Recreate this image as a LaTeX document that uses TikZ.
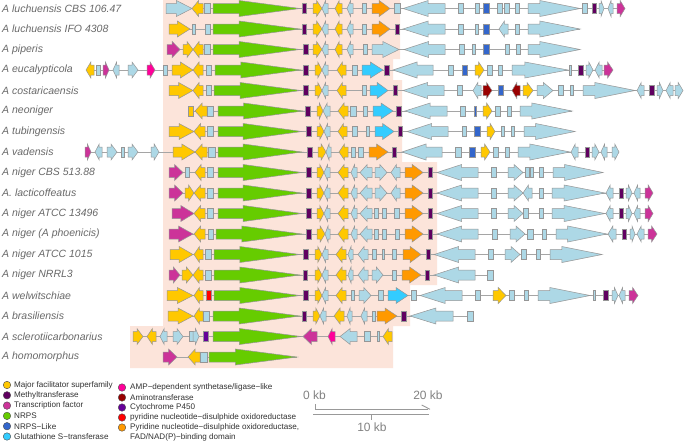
\documentclass[tikz,border=0pt]{standalone}
\usepackage{fontspec}
\setmainfont{Liberation Sans}
\definecolor{mfs}{RGB}{255,200,0}
\definecolor{mt}{RGB}{96,0,96}
\definecolor{tf}{RGB}{204,51,153}
\definecolor{nrps}{RGB}{102,204,0}
\definecolor{nrpsl}{RGB}{51,102,204}
\definecolor{gst}{RGB}{51,204,255}
\definecolor{amp}{RGB}{255,0,153}
\definecolor{amt}{RGB}{153,0,0}
\definecolor{ptf}{RGB}{102,0,153}
\definecolor{pnr}{RGB}{255,0,0}
\definecolor{pfad}{RGB}{255,153,0}
\definecolor{oth}{RGB}{173,216,230}
\definecolor{genegray}{RGB}{150,150,150}
\definecolor{linegray}{RGB}{165,165,165}
\definecolor{bgpeach}{RGB}{252,228,218}
\definecolor{labgray}{RGB}{105,105,105}
\definecolor{leggray}{RGB}{50,50,50}
\definecolor{scalegray}{RGB}{130,130,130}
\tikzset{
  gene/.style={draw=genegray, line width=0.5pt},
  rowline/.style={draw=linegray, line width=0.8pt},
  lab/.style={anchor=west, inner sep=0pt, text=labgray, font=\fontsize{10.5}{12}\selectfont\itshape},
  legtxt/.style={anchor=west, inner sep=0pt, text=leggray, font=\fontsize{8.1}{9}\selectfont},
  legdot/.style={circle, draw=black!70, line width=0.4pt, minimum size=7.5pt, inner sep=0pt},
  scaletxt/.style={inner sep=0pt, text=scalegray, font=\fontsize{12}{13}\selectfont},
  scaleline/.style={draw=black!40, line width=0.9pt}
}
\def\ry{0}
\newcommand\setrow[1]{\def\ry{#1}}
\newcommand\gR[4][0.6]{\pgfmathsetmacro\hx{#3-(#3-#2)*#1}\filldraw[gene,fill=#4] (#2,\ry-5) -- (\hx,\ry-5) -- (\hx,\ry-8) -- (#3,\ry) -- (\hx,\ry+8) -- (\hx,\ry+5) -- (#2,\ry+5) -- cycle;}
\newcommand\gL[4][0.6]{\pgfmathsetmacro\hx{#2+(#3-#2)*#1}\filldraw[gene,fill=#4] (#3,\ry-5) -- (\hx,\ry-5) -- (\hx,\ry-8) -- (#2,\ry) -- (\hx,\ry+8) -- (\hx,\ry+5) -- (#3,\ry+5) -- cycle;}
\newcommand\gB[3]{\filldraw[gene,fill=#3] (#1,\ry-5) rectangle (#2,\ry+5);}
\newcommand\rl[2]{\draw[rowline] (#1,\ry) -- (#2,\ry);}
\newcommand\nrps[2]{\gR[0.7]{#1}{#2}{nrps}}
\newcommand\bigR[2]{\gR[0.77]{#1}{#2}{oth}}
\begin{document}
\begin{tikzpicture}[x=1pt,y=-1pt]
\useasboundingbox (0,0) rectangle (685,442);
\fill[white] (0,0) rectangle (685,442);
% shaded region
\fill[bgpeach] (163,0) -- (400,0) -- (400,59) -- (393,59) -- (393,80) -- (402,80) -- (402,162) -- (437,162) -- (437,285) -- (410,285) -- (410,326) -- (393,326) -- (393,368) -- (130,368) -- (130,326) -- (163,326) -- cycle;

% labels
\node[lab] (n1) at (2,8.5) {A luchuensis CBS 106.47};
\node[lab] (n2) at (2,29) {A luchuensis IFO 4308};
\node[lab] (n3) at (2,49.5) {A piperis};
\node[lab] (n4) at (2,70) {A eucalypticola};
\node[lab] (n5) at (2,90.5) {A costaricaensis};
\node[lab] (n6) at (2,111) {A neoniger};
\node[lab] (n7) at (2,131.5) {A tubingensis};
\node[lab] (n8) at (2,152) {A vadensis};
\node[lab] (n9) at (2,172.5) {A niger CBS 513.88};
\node[lab] (n10) at (2,193) {A. lacticoffeatus};
\node[lab] (n11) at (2,213.5) {A niger ATCC 13496};
\node[lab] (n12) at (2,234) {A niger (A phoenicis)};
\node[lab] (n13) at (2,254.5) {A niger ATCC 1015};
\node[lab] (n14) at (2,275) {A niger NRRL3};
\node[lab] (n15) at (2,295.5) {A welwitschiae};
\node[lab] (n16) at (2,316) {A brasiliensis};
\node[lab] (n17) at (2,336.5) {A sclerotiicarbonarius};
\node[lab] (n18) at (2,357) {A homomorphus};

% row 1
\setrow{8.5}\rl{166}{625}
\gR{166}{192}{oth}\gL{192}{203}{mfs}\gB{204}{210}{oth}\nrps{213}{300}\gB{302}{306}{mt}
\gR{313}{322}{mfs}\gL{322}{328}{oth}\gL{335}{342}{mfs}\gL{347}{353}{oth}\gB{362}{366}{oth}
\gR{372}{390}{pfad}\gB{394}{400}{oth}\gL{403}{445}{oth}\gB{458}{463}{oth}\gB{475}{479}{oth}
\gB{483}{489}{nrpsl}\gB{497}{502}{oth}\gB{504}{509}{oth}\gB{515}{519}{oth}\bigR{528}{580}
\gB{582}{587}{oth}\gB{592}{596}{mt}\gR{599}{604}{oth}\gL{608}{613}{oth}\gR{617}{625}{tf}
% row 2
\setrow{29}\rl{169}{580}
\gR{169}{190}{mfs}\gB{192}{195}{oth}\gB{205}{210}{oth}\nrps{213}{300}\gB{302}{306}{mt}
\gR{313}{322}{mfs}\gL{322}{328}{oth}\gL{335}{342}{mfs}\gL{347}{353}{oth}\gB{362}{366}{oth}
\gR{372}{390}{pfad}\gB{395}{399}{mt}\gL{403}{445}{oth}\gB{458}{463}{oth}\gB{475}{478}{oth}
\gB{483}{489}{nrpsl}\gL{499}{508}{oth}\gB{515}{519}{oth}\bigR{528}{580}
% row 3
\setrow{49.5}\rl{167}{580}
\gR{167}{180}{tf}\gR{183}{193}{mfs}\gL{193}{203}{mfs}\gB{204}{210}{oth}\nrps{213}{300}\gB{303}{308}{mt}
\gR{313}{322}{mfs}\gL{322}{328}{oth}\gL{335}{342}{mfs}\gL{347}{353}{oth}\gB{363}{367}{oth}
\gR{372}{399}{oth}\gL{404}{445}{oth}\gB{459}{464}{oth}\gB{472}{475}{oth}\gB{483}{489}{nrpsl}
\gB{505}{509}{oth}\gB{516}{520}{oth}\bigR{528}{580}
% row 4
\setrow{70}\rl{86}{613}
\gL{86}{94}{mfs}\gB{96}{100}{oth}\gR{103}{109}{tf}\gL{113}{119}{oth}\gR{128}{138}{oth}
\gR{147}{155}{amp}\gB{163}{167}{oth}\gR{172}{193}{mfs}\gL{193}{203}{mfs}\gB{206}{211}{oth}
\nrps{215}{301}\gB{303}{308}{mt}\gR{315}{322}{mfs}\gL{322}{328}{oth}\gL{337}{346}{mfs}
\gB{352}{357}{oth}\gR{362}{383}{gst}\gB{384}{389}{mt}\gL{393}{433}{oth}\gB{448}{453}{oth}
\gB{462}{467}{nrpsl}\gR{475}{484}{mfs}\gB{487}{492}{oth}\gB{498}{502}{oth}\bigR{512}{568}
\gB{569}{571}{oth}\gB{578}{583}{mt}\gR{586}{593}{oth}\gL{595}{602}{oth}\gR{604}{613}{tf}
% row 5
\setrow{90.5}\rl{169}{683}
\gR{169}{193}{mfs}\gL{193}{203}{mfs}\gB{206}{211}{oth}\nrps{214}{301}\gB{303}{308}{mt}
\gR{315}{322}{mfs}\gL{322}{328}{oth}\gL{337}{346}{mfs}\gB{362}{366}{oth}\gR{370}{388}{gst}
\gB{393}{397}{mt}\gL{403}{444}{oth}\gB{457}{462}{oth}\gL{473}{481}{oth}\gR{483}{492}{amt}
\gB{498}{503}{nrpsl}\gL{512}{520}{amt}\gR{523}{533}{mfs}\gR{537}{553}{oth}\gB{558}{563}{oth}
\gB{570}{573}{oth}\bigR{583}{635}\gL{637}{644}{oth}\gB{649}{654}{mt}\gR{657}{663}{oth}
\gL{666}{673}{oth}\gR{675}{683}{oth}
% row 6
\setrow{111}\rl{188}{572}
\gB{188}{193}{mfs}\gL{195}{207}{mfs}\gB{207}{213}{oth}\nrps{218}{303}\gB{305}{310}{mt}
\gR{317}{323}{mfs}\gL{323}{330}{oth}\gL{338}{348}{mfs}\gB{350}{356}{oth}\gB{363}{367}{oth}
\gR{373}{393}{gst}\gB{396}{401}{mt}\gL{405}{447}{oth}\gB{460}{465}{oth}\gB{474.5}{476}{nrpsl}
\gR{483}{492}{mfs}\gB{495}{500}{oth}\gB{507}{511}{oth}\bigR{520}{572}
% row 7
\setrow{131.5}\rl{169}{575}
\gR{169}{194}{mfs}\gL{194}{205}{mfs}\gB{207}{213}{oth}\nrps{218}{302}\gB{306}{311}{mt}
\gR{317}{324}{mfs}\gL{324}{330}{oth}\gL{338}{347}{mfs}\gB{352}{357}{oth}\gB{366}{369}{oth}
\gR{375}{394}{gst}\gB{398}{402}{mt}\gL{407}{448}{oth}\gB{462}{466}{oth}\gB{474}{480}{nrpsl}
\gR{487}{495}{mfs}\gB{501}{504}{oth}\gB{511}{514}{oth}\bigR{524}{575}
% row 8
\setrow{152}\rl{85}{619}
\gR{85}{91}{tf}\gL{95}{102}{oth}\gR{107}{117}{oth}\gB{121}{124}{oth}\gR{128}{138}{oth}
\gR{151}{159}{oth}\gR{173}{195}{mfs}\gL{195}{207}{mfs}\gB{208}{215}{oth}\nrps{218}{302}
\gB{307}{312}{mt}\gR{318}{326}{mfs}\gL{326}{331}{oth}\gL{339}{348}{mfs}\gB{351}{355}{oth}
\gB{358}{363}{oth}\gR{369}{388}{pfad}\gB{392}{396}{mt}\gL{402}{442}{oth}\gB{455}{461}{oth}
\gB{469}{475}{nrpsl}\gR{481}{490}{mfs}\gB{493}{498}{oth}\gB{505}{509}{oth}\bigR{518}{570}
\gL{571}{578}{oth}\gB{585}{589}{mt}\gR{592}{599}{oth}\gL{601}{607}{oth}\gR{612}{619}{oth}
% row 9
\setrow{172.5}\rl{169}{603}
\gR{169}{183}{tf}\gB{185}{189}{oth}\gL{195}{205}{mfs}\gB{207}{213}{oth}\nrps{218}{302}
\gB{306}{311}{mt}\gR{317}{324}{mfs}\gL{324}{330}{oth}\gL{338}{348}{mfs}\gL{351}{357}{oth}
\gL{360}{372}{oth}\gR{375}{387}{oth}\gL{391}{400}{oth}\gR{405}{423}{pfad}\gB{428}{432}{mt}
\gL{437}{478}{oth}\gB{491}{496}{oth}\gR{508}{523}{oth}\gB{525}{529}{oth}\gB{530}{533}{oth}
\gB{539}{543}{oth}\bigR{553}{603}
% row 10
\setrow{193}\rl{169}{653}
\gR{169}{183}{tf}\gR{185}{194}{mfs}\gL{194}{205}{mfs}\gB{207}{213}{oth}\nrps{218}{302}
\gB{306}{311}{mt}\gR{317}{324}{mfs}\gL{324}{330}{oth}\gL{338}{348}{mfs}\gL{351}{357}{oth}
\gL{360}{372}{oth}\gR{375}{387}{oth}\gL{391}{400}{oth}\gR{405}{423}{pfad}\gB{428}{432}{mt}
\gL{437}{478}{oth}\gB{491}{496}{oth}\gR{508}{523}{oth}\gL{523}{532}{oth}\gB{539}{543}{oth}
\bigR{552}{605}\gL{606}{613}{oth}\gB{619}{623}{mt}\gR{626}{632}{oth}\gL{634}{640}{oth}\gR{645}{653}{tf}
% row 11
\setrow{213.5}\rl{172}{653}
\gR{172}{194}{tf}\gL{194}{205}{mfs}\gB{207}{213}{oth}\nrps{218}{302}
\gB{306}{311}{mt}\gR{317}{324}{mfs}\gL{324}{330}{oth}\gL{338}{348}{mfs}\gL{351}{357}{oth}
\gL{360}{372}{oth}\gB{374}{378}{oth}\gB{382}{386}{oth}\gB{394}{399}{oth}\gR{405}{423}{pfad}
\gB{428}{432}{mt}\gL{437}{478}{oth}\gB{491}{496}{oth}\gR{508}{523}{oth}\gB{523}{528}{oth}
\gB{539}{543}{oth}\bigR{552}{605}\gL{606}{613}{oth}\gB{619}{623}{mt}\gR{626}{632}{oth}
\gL{634}{640}{oth}\gR{645}{653}{tf}
% row 12
\setrow{234}\rl{169}{657}
\gR{169}{193}{tf}\gL{194}{205}{mfs}\gB{208}{213}{oth}\nrps{216}{302}
\gB{306}{311}{mt}\gR{317}{325}{mfs}\gL{325}{330}{oth}\gL{338}{348}{mfs}\gL{351}{357}{oth}
\gL{360}{372}{oth}\gB{374}{378}{oth}\gB{382}{386}{oth}\gB{395}{399}{oth}\gR{405}{423}{pfad}
\gB{428}{432}{mt}\gL{437}{478}{oth}\gB{492}{497}{oth}\gR{510}{525}{oth}\gB{527}{533}{oth}
\gB{542}{546}{oth}\bigR{556}{607}\gL{608}{616}{oth}\gB{622}{626}{mt}\gR{630}{635}{oth}
\gL{637}{644}{oth}\gR{648}{657}{tf}
% row 13
\setrow{254.5}\rl{170}{602}
\gR{170}{193}{mfs}\gL{194}{203}{mfs}\gB{205}{211}{oth}\nrps{214}{300}
\gB{303}{308}{mt}\gR{315}{322}{mfs}\gL{322}{328}{oth}\gL{336}{346}{mfs}\gL{348}{353}{oth}
\gL{358}{368}{oth}\gB{372}{376}{oth}\gB{382}{384}{oth}\gB{392}{396}{oth}\gR{403}{421}{pfad}
\gB{426}{430}{mt}\gL{434}{475}{oth}\gB{488}{493}{oth}\gR{505}{520}{oth}\gB{521}{526}{oth}
\gB{536}{540}{oth}\bigR{550}{602}
% row 14
\setrow{275}\rl{169}{493}
\gR{169}{180}{tf}\gR{182}{193}{mfs}\gL{193}{203}{mfs}\gB{205}{211}{oth}\nrps{214}{300}
\gB{303}{307}{mt}\gR{315}{322}{mfs}\gL{322}{328}{oth}\gL{336}{346}{mfs}\gL{348}{353}{oth}
\gL{358}{368}{oth}\gR{372}{383}{oth}\gB{392}{396}{oth}\gR{402}{421}{pfad}\gB{425}{429}{mt}
\gL{434}{475}{oth}\gB{487}{493}{oth}
% row 15
\setrow{295.5}\rl{167}{638}
\gR{167}{193}{mfs}\gL{194}{203}{mfs}\gB{206}{211}{pnr}\nrps{214}{300}
\gB{303}{308}{mt}\gR{315}{322}{mfs}\gL{322}{328}{oth}\gL{336}{346}{mfs}\gB{351}{354}{oth}
\gR{359}{371}{oth}\gB{378}{383}{oth}\gR{388}{408}{gst}\gB{411}{416}{oth}\gL{420}{462}{oth}
\gB{475}{480}{oth}\gR{493}{506}{mfs}\gB{509}{514}{oth}\gB{524}{528}{oth}\bigR{538}{590}
\gB{593}{595}{oth}\gB{603}{608}{mt}\gR{612}{618}{oth}\gL{619}{625}{oth}\gR{629}{638}{tf}
% row 16
\setrow{316}\rl{168}{473}
\gR{168}{193}{mfs}\gL{194}{203}{mfs}\gB{203}{209}{oth}\nrps{213}{300}
\gB{302}{306}{mt}\gR{313}{320}{mfs}\gL{320}{326}{oth}\gL{334}{344}{mfs}\gL{347}{352}{oth}
\gL{361}{367}{oth}\gB{372}{375}{oth}\gR{377}{397}{pfad}\gB{401}{406}{mt}\gL{410}{453}{oth}
\gB{467}{473}{oth}
% row 17
\setrow{336.5}\rl{133}{392}
\gR{133}{143}{mfs}\gL{147}{156}{mfs}\gL{160}{167}{oth}\gR{173}{183}{oth}\gB{189}{193}{oth}
\gR{193}{199}{oth}\gB{203}{208}{ptf}\nrps{213}{301}\gL{303}{317}{tf}\gL{328}{335}{amp}
\gL{340}{357}{oth}\gB{364}{370}{oth}\gB{377}{379}{oth}\gL{383}{392}{mfs}
% row 18
\setrow{357}\rl{163}{297}
\gR{163}{177}{tf}\gL{188}{200}{mfs}\gB{200}{207}{oth}\nrps{209}{297}

% legend
\node[legdot, fill=mfs] (d1) at (7,385) {};
\node[legtxt] (t1) at (14,385) {Major facilitator superfamily};
\node[legdot, fill=mt] (d2) at (7,395.3) {};
\node[legtxt] (t2) at (14,395.3) {Methyltransferase};
\node[legdot, fill=tf] (d3) at (7,405.6) {};
\node[legtxt] (t3) at (14,405.6) {Transcription factor};
\node[legdot, fill=nrps] (d4) at (7,415.9) {};
\node[legtxt] (t4) at (14,415.9) {NRPS};
\node[legdot, fill=nrpsl] (d5) at (7,426.2) {};
\node[legtxt] (t5) at (14,426.2) {NRPS−Like};
\node[legdot, fill=gst] (d6) at (7,436.5) {};
\node[legtxt] (t6) at (14,436.5) {Glutathione S−transferase};
\node[legdot, fill=amp] (d7) at (122,387.5) {};
\node[legtxt] (t7) at (130,387.5) {AMP−dependent synthetase/ligase−like};
\node[legdot, fill=amt] (d8) at (122,397.5) {};
\node[legtxt] (t8) at (130,397.5) {Aminotransferase};
\node[legdot, fill=ptf] (d9) at (122,407.5) {};
\node[legtxt] (t9) at (130,407.5) {Cytochrome P450};
\node[legdot, fill=pnr] (d10) at (122,417.5) {};
\node[legtxt] (t10) at (130,417.5) {pyridine nucleotide−disulphide oxidoreductase};
\node[legdot, fill=pfad] (d11) at (122,427.5) {};
\node[legtxt] (t11) at (130,427.5) {Pyridine nucleotide−disulphide oxidoreductase,};
\node[legtxt] (t12) at (130,437.5) {FAD/NAD(P)−binding domain};

% scale bar
\coordinate (a0) at (315,404);
\coordinate (a1) at (315,409.3);
\coordinate (a2) at (428,409.3);
\coordinate (a3) at (421.7,405);
\coordinate (a4) at (430,409.3);
\coordinate (b0) at (313,414);
\coordinate (b1) at (429,414);
\coordinate (c0) at (371.5,414);
\coordinate (c1) at (371.5,419.5);
\draw[scaleline] (a0) -- (a1) -- (a2);
\draw[scaleline] (a3) -- (a4);
\draw[scaleline] (b0) -- (b1);
\draw[scaleline] (c0) -- (c1);
\node[scaletxt] (k0) at (314.5,395.5) {0 kb};
\node[scaletxt] (k20) at (428,395.5) {20 kb};
\node[scaletxt] (k10) at (372,427.5) {10 kb};
\end{tikzpicture}
\end{document}
